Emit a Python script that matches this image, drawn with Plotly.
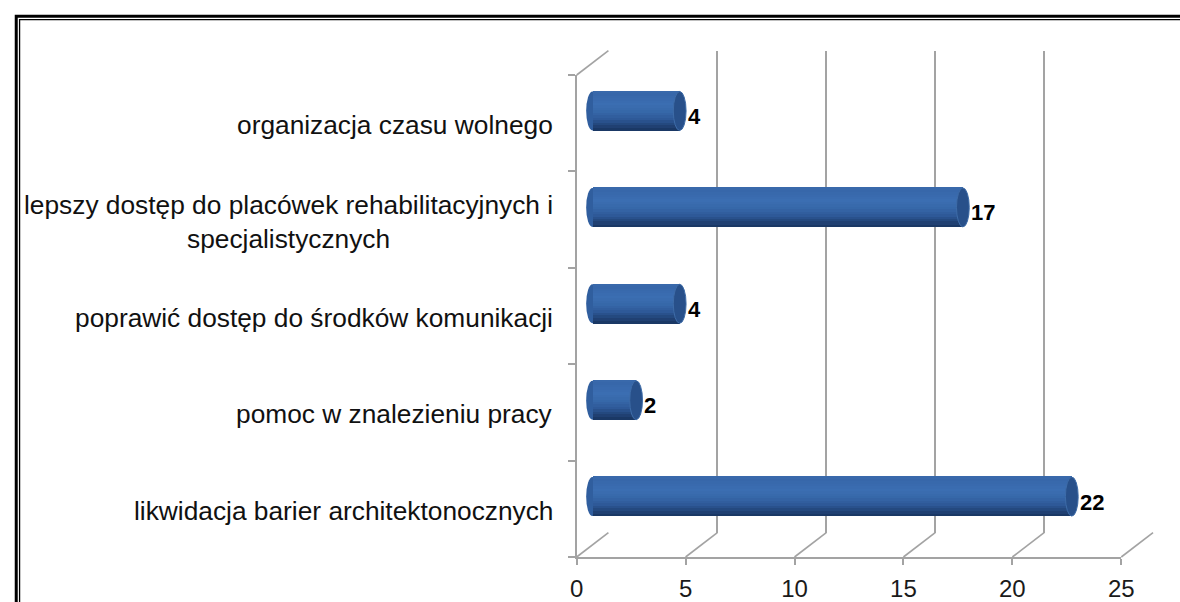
import plotly.graph_objects as go

# ---------------- data ----------------
categories = [
    "likwidacja barier architektonocznych",
    "pomoc w znalezieniu pracy",
    "poprawić dostęp do środków komunikacji",
    "lepszy dostęp do placówek rehabilitacyjnych i<br>specjalistycznych",
    "organizacja czasu wolnego",
]
values = [22, 2, 4, 17, 4]
x_ticks = [0, 5, 10, 15, 20, 25]
x_range = [0, 25]

# ---------------- geometry (pixels) ----------------
W, H = 1180, 602
FX0, FX1 = 579.5, 1133.5      # front axis: 0 .. 25
FYT, FYB = 75, 557            # front plot top / floor
DX, DY = 32.3, 24.4           # depth offset of back wall


def px(x):
    return x / W


def py(y):
    return 1 - y / H


FONT = "Liberation Sans, Arial, sans-serif"
GRID = "#a3a3a3"
ncat = len(categories)
span = x_range[1] - x_range[0]
SCALE = (FX1 - FX0) / span    # pixels per value unit
PAD = 1.0                     # extra value units left of 0 on bar axis

fig = go.Figure()

# invisible traces to establish axes
fig.add_trace(go.Scatter(x=values, y=categories, mode="markers",
                         marker=dict(opacity=0), hoverinfo="skip",
                         showlegend=False, xaxis="x", yaxis="y"))
fig.add_trace(go.Scatter(x=values, y=categories, mode="markers",
                         marker=dict(opacity=0), hoverinfo="skip",
                         showlegend=False, xaxis="x2", yaxis="y2"))

# ---------------- cylinder bars (gradient strips) ----------------
BW = 0.405  # bar thickness in category units
stops = [
    (0.00, (58, 106, 172)),
    (0.10, (55, 103, 170)),
    (0.35, (59, 110, 178)),
    (0.55, (54, 103, 168)),
    (0.72, (46, 89, 152)),
    (0.85, (36, 72, 126)),
    (1.00, (24, 52, 95)),
]


def color_at(t):
    for (t0, c0), (t1, c1) in zip(stops[:-1], stops[1:]):
        if t0 <= t <= t1:
            f = (t - t0) / (t1 - t0) if t1 > t0 else 0
            c = [round(a + (b - a) * f) for a, b in zip(c0, c1)]
            return "rgb(%d,%d,%d)" % tuple(c)
    return "rgb(%d,%d,%d)" % stops[-1][1]


RX = 6.5 / SCALE
N = 16
for i in range(N):
    t0, t1 = i / N, (i + 1) / N
    tm = (t0 + t1) / 2
    off = BW / 2 - t1 * BW
    wid = BW / N * (1.35 if i < N - 1 else 1.0)
    fig.add_trace(go.Bar(
        x=values, y=categories, orientation="h",
        base=0, width=wid, offset=off,
        marker=dict(color=color_at(tm), line=dict(width=0)),
        hoverinfo="skip", showlegend=False,
        xaxis="x3", yaxis="y3",
    ))

# ---------------- shapes ----------------
shapes = []

# double frame
shapes.append(dict(type="rect", xref="paper", yref="paper",
                   x0=px(9.4), x1=px(1200), y0=py(16.3), y1=py(650),
                   line=dict(color="black", width=3), layer="above"))
shapes.append(dict(type="rect", xref="paper", yref="paper",
                   x0=px(12.8), x1=px(1200), y0=py(19.6), y1=py(650),
                   line=dict(color="black", width=1.3), layer="above"))

# floor diagonals from each front tick to the back wall
for t in x_ticks:
    xf = FX0 + (t - x_range[0]) * SCALE
    shapes.append(dict(type="line", xref="paper", yref="paper",
                       x0=px(xf), y0=py(FYB), x1=px(xf + DX), y1=py(FYB - DY),
                       line=dict(color=GRID, width=1.6), layer="below"))
# left wall top edge
shapes.append(dict(type="line", xref="paper", yref="paper",
                   x0=px(FX0), y0=py(FYT), x1=px(FX0 + DX), y1=py(FYT - DY),
                   line=dict(color=GRID, width=1.6), layer="below"))

# cylinder end caps (data coordinates on bar axes)
for i, v in enumerate(values):
    # left rounded end
    shapes.append(dict(type="circle", xref="x3", yref="y3",
                       x0=-RX, x1=RX, y0=i - BW / 2, y1=i + BW / 2,
                       fillcolor="rgb(48,94,158)", line=dict(width=0),
                       layer="below"))
    # right end face
    shapes.append(dict(type="circle", xref="x3", yref="y3",
                       x0=v - RX, x1=v + RX, y0=i - BW / 2, y1=i + BW / 2,
                       fillcolor="rgb(40,80,138)",
                       line=dict(color="rgb(62,108,168)", width=1),
                       layer="above"))

# ---------------- annotations ----------------
annotations = []
for c in categories:
    annotations.append(dict(xref="paper", yref="y", x=px(557), y=c,
                            text=c, showarrow=False, xanchor="right",
                            yanchor="middle", align="center", yshift=-2,
                            font=dict(family=FONT, size=26.3, color="#111")))
for c, v in zip(categories, values):
    annotations.append(dict(xref="x3", yref="y3", x=v, y=c,
                            text="<b>%d</b>" % v, showarrow=False,
                            xanchor="left", yanchor="middle",
                            xshift=6, yshift=-5.5,
                            font=dict(family=FONT, size=22, color="black")))

fig.update_layout(
    width=W, height=H,
    margin=dict(l=0, r=0, t=0, b=0),
    paper_bgcolor="white", plot_bgcolor="rgba(0,0,0,0)",
    barmode="overlay", bargap=0,
    showlegend=False,
    shapes=shapes, annotations=annotations,
    # front axes
    xaxis=dict(domain=[px(FX0), px(FX1)], range=x_range, tickvals=x_ticks,
               showgrid=False, zeroline=False, showline=True,
               linecolor=GRID, linewidth=1.6, ticks="outside", ticklen=6,
               tickcolor=GRID, tickwidth=1.6, anchor="y",
               ticklabelstandoff=3,
               tickfont=dict(family=FONT, size=24, color="#1a1a1a")),
    yaxis=dict(domain=[py(FYB), py(FYT)], type="category",
               categoryorder="array", categoryarray=categories,
               range=[-0.5, ncat - 0.5], tickson="boundaries",
               showgrid=False, zeroline=False, showline=True,
               linecolor=GRID, linewidth=1.6, ticks="outside", ticklen=7,
               tickcolor=GRID, tickwidth=1.6, showticklabels=False,
               anchor="x"),
    # back wall axes (vertical gridlines)
    xaxis2=dict(domain=[px(FX0 + DX), px(FX1 + DX)], range=x_range,
                tickvals=x_ticks, showgrid=True, gridcolor=GRID,
                gridwidth=1.6, zeroline=False, showline=False,
                showticklabels=False, ticks="", anchor="y2"),
    yaxis2=dict(domain=[py(FYB - DY), py(FYT - DY)], type="category",
                categoryorder="array", categoryarray=categories,
                range=[-0.5, ncat - 0.5], showgrid=False, zeroline=False,
                showline=False, showticklabels=False, ticks="",
                anchor="x2"),
    # bar axes (mid depth), extended slightly left of zero for the round end
    xaxis3=dict(domain=[px(FX0 + DX / 2 - PAD * SCALE), px(FX1 + DX / 2)],
                range=[x_range[0] - PAD, x_range[1]],
                visible=False, anchor="y3"),
    yaxis3=dict(domain=[py(FYB - DY / 2), py(FYT - DY / 2)], type="category",
                categoryorder="array", categoryarray=categories,
                range=[-0.5, ncat - 0.5], visible=False, anchor="x3"),
)

fig.write_html(
    "out.html",
    config={"displayModeBar": False},
    post_script="document.body.style.margin='0';"
                "document.body.style.overflow='hidden';",
)
